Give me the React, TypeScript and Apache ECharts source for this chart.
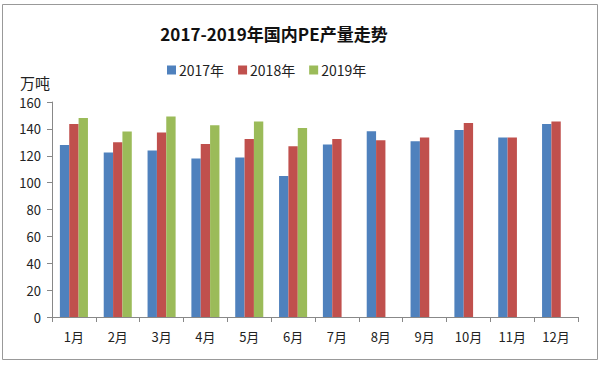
import React, { useEffect, useRef } from "react";
import * as echarts from "echarts";

const months = ["1月", "2月", "3月", "4月", "5月", "6月", "7月", "8月", "9月", "10月", "11月", "12月"];
const seriesNames = ["2017年", "2018年", "2019年"];
const v2017 = [128, 122.5, 124, 118, 118.7, 105, 128.4, 138.3, 130.8, 139.2, 133.6, 143.7];
const v2018 = [143.7, 130, 137.3, 128.8, 132.5, 127.1, 132.5, 131.6, 133.6, 144.4, 133.6, 145.5];
const v2019: (number | null)[] = [148.1, 138, 149.2, 142.7, 145.5, 140.7, null, null, null, null, null, null];
const colors = ["#4F81BD", "#C0504D", "#9BBB59"];
const yTicks = { min: 0, max: 160, interval: 20 };

export default function App() {
  const ref = useRef<HTMLDivElement>(null);
  useEffect(() => {
    if (!ref.current) return;
    const chart = echarts.init(ref.current, null, { renderer: "svg" });
    const font = '"Noto Sans CJK SC", "Noto Sans", sans-serif';
    const data = [v2017, v2018, v2019];
    chart.setOption({
      animation: false,
      backgroundColor: "#ffffff",
      title: {
        text: "2017-2019年国内PE产量走势",
        left: 269,
        textAlign: "center",
        top: 20,
        textStyle: { fontFamily: font, fontSize: 17, fontWeight: "bold", color: "#111" },
      },
      legend: {
        data: seriesNames,
        top: 58,
        left: 162,
        itemWidth: 9,
        itemHeight: 9,
        itemGap: 14,
        icon: "rect",
        textStyle: { fontFamily: font, fontSize: 14, color: "#222", padding: [0, 0, 0, -2] },
      },
      graphic: [
        {
          type: "rect",
          shape: { x: 2.5, y: 4.5, width: 595, height: 355 },
          style: { fill: "none", stroke: "#999", lineWidth: 1 },
          silent: true,
        },
      ],
      grid: { left: 52, right: 22, top: 102, bottom: 48 },
      xAxis: {
        type: "category",
        data: months,
        axisLine: { lineStyle: { color: "#888" } },
        axisTick: { show: true, alignWithLabel: false, length: 5, lineStyle: { color: "#888" } },
        axisLabel: { fontFamily: font, fontSize: 13, color: "#222", margin: 13 },
      },
      yAxis: {
        type: "value",
        min: yTicks.min,
        max: yTicks.max,
        interval: yTicks.interval,
        name: "万吨",
        nameLocation: "end",
        nameGap: 12,
        nameTextStyle: { fontFamily: font, fontSize: 15, color: "#222", align: "right", padding: [0, 2, 0, 0] },
        axisLine: { show: true, lineStyle: { color: "#888" } },
        axisTick: { show: true, length: 5, lineStyle: { color: "#888" } },
        axisLabel: { fontFamily: font, fontSize: 13, color: "#222", margin: 11 },
        splitLine: { show: false },
      },
      series: seriesNames.map((name, i) => ({
        name,
        type: "bar",
        data: data[i],
        itemStyle: { color: colors[i] },
        barGap: "0%",
        barCategoryGap: "36%",
      })),
    });
    return () => chart.dispose();
  }, []);
  return (
    <div
      ref={ref}
      style={{ position: "fixed", left: 0, top: 0, width: 600, height: 365 }}
    />
  );
}
